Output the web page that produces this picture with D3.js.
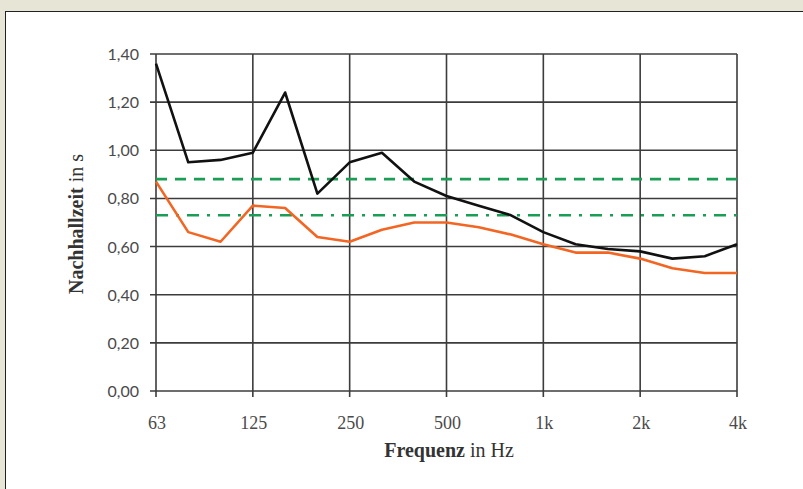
<!DOCTYPE html>
<html><head><meta charset="utf-8">
<script src="https://cdn.jsdelivr.net/npm/d3@7"></script>
<style>html,body{margin:0;padding:0;background:#e7e6d6;}svg{display:block;}</style>
</head><body>
<svg id="c" width="803" height="489"></svg>
<script>
const bands = ["63","80","100","125","160","200","250","315","400","500","630","800","1k","1,25k","1,6k","2k","2,5k","3,15k","4k"];
const tickLabels = ["63","125","250","500","1k","2k","4k"];
const yTicks = [0,0.2,0.4,0.6,0.8,1.0,1.2,1.4];
const measured = [1.36,0.95,0.96,0.99,1.24,0.82,0.95,0.99,0.87,0.81,0.77,0.73,0.66,0.61,0.59,0.58,0.55,0.56,0.61];
const treated  = [0.87,0.66,0.62,0.77,0.76,0.64,0.62,0.67,0.70,0.70,0.68,0.65,0.61,0.575,0.575,0.55,0.51,0.49,0.49];
const upperLimit = 0.88;
const lowerLimit = 0.73;

const svg = d3.select("#c");
svg.append("rect").attr("x",0).attr("y",0).attr("width",803).attr("height",489).attr("fill","#e7e6d6");
svg.append("rect").attr("x",5.5).attr("y",11.5).attr("width",820).attr("height",500).attr("fill","#fff").attr("stroke","#222").attr("stroke-width",1);

const L=156,R=737,T=54,B=391;
const x = d3.scalePoint().domain(bands).range([L,R]);
const y = d3.scaleLinear().domain([0,1.4]).range([B,T]);
const grid="#3c3c3c";

// horizontal grid
svg.append("g").selectAll("line").data(yTicks).join("line")
  .attr("x1",L-6).attr("x2",R).attr("y1",d=>y(d)).attr("y2",d=>y(d))
  .attr("stroke",grid).attr("stroke-width",1.6);
// vertical grid
svg.append("g").selectAll("line").data(tickLabels).join("line")
  .attr("x1",d=>x(d)).attr("x2",d=>x(d)).attr("y1",T).attr("y2",B+6)
  .attr("stroke",grid).attr("stroke-width",1.6);

// y tick labels
svg.append("g").selectAll("text").data(yTicks).join("text")
  .attr("x",139).attr("y",d=>y(d)+6)
  .attr("text-anchor","end").attr("font-family","Lato, 'Open Sans', sans-serif").attr("font-size",16)
  .attr("fill","#4a4a4a").text(d=>d.toFixed(2).replace(".",","));
// x tick labels
svg.append("g").selectAll("text").data(tickLabels).join("text")
  .attr("x",d=>x(d)+1).attr("y",429)
  .attr("text-anchor","middle").attr("font-family","'Liberation Serif', serif").attr("font-size",18)
  .attr("fill","#4a4a4a").text(d=>d);

// reference lines
svg.append("line").attr("x1",L).attr("x2",R).attr("y1",y(upperLimit)).attr("y2",y(upperLimit))
  .attr("stroke","#1a9e55").attr("stroke-width",2.6).attr("stroke-dasharray","11,8");
svg.append("line").attr("x1",L).attr("x2",R).attr("y1",y(lowerLimit)).attr("y2",y(lowerLimit))
  .attr("stroke","#1a9e55").attr("stroke-width",2.6).attr("stroke-dasharray","12,8,3,8");

const line = d3.line().x((d,i)=>x(bands[i])).y(d=>y(d));
svg.append("path").datum(treated).attr("d",line).attr("fill","none")
  .attr("stroke","#f26522").attr("stroke-width",2.6).attr("stroke-linejoin","round");
svg.append("path").datum(measured).attr("d",line).attr("fill","none")
  .attr("stroke","#111").attr("stroke-width",2.6).attr("stroke-linejoin","round");

// axis titles
const xt = svg.append("text").attr("x",449).attr("y",457).attr("text-anchor","middle")
  .attr("font-family","'Liberation Serif', serif").attr("font-size",20).attr("fill","#333");
xt.append("tspan").attr("font-weight","bold").text("Frequenz");
xt.append("tspan").text(" in Hz");
const yt = svg.append("text").attr("transform","translate(83,224) rotate(-90)").attr("text-anchor","middle")
  .attr("font-family","'Liberation Serif', serif").attr("font-size",20).attr("fill","#333");
yt.append("tspan").attr("font-weight","bold").text("Nachhallzeit");
yt.append("tspan").text(" in s");
</script>
</body></html>
